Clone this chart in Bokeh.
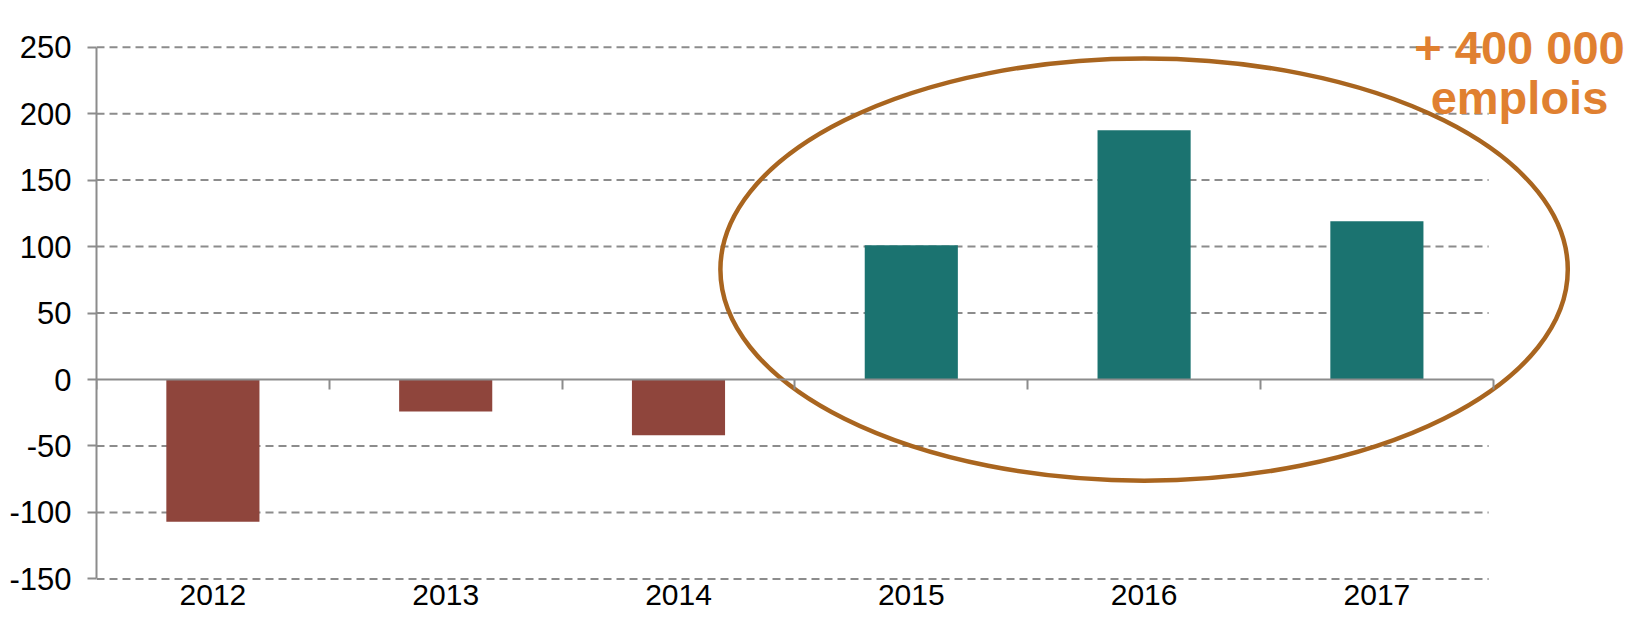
from bokeh.plotting import figure
from bokeh.models import Range1d, LinearAxis, FixedTicker, Label
from bokeh.embed import file_html
from bokeh.resources import INLINE

# ---- data ----
years = ["2012", "2013", "2014", "2015", "2016", "2017"]
values = [-107, -24, -42, 101, 187.5, 119]
y_ticks = [-150, -100, -50, 0, 50, 100, 150, 200, 250]
annotation_lines = ["+ 400 000", "emplois"]

NEG = "#8F453C"
POS = "#1B7370"
GREY = "#8C8C8C"
RING = "#A9651F"
NOTE = "#E08030"
FONT = "Liberation Sans"

x_pos = [i + 1 for i in range(len(years))]
colors = [NEG if v < 0 else POS for v in values]

p = figure(width=1627, height=615,
           x_range=Range1d(0.5, 7.0765), y_range=Range1d(-177.5, 285.1),
           output_backend="svg", toolbar_location=None,
           x_axis_location=None, y_axis_location=None,
           min_border_left=96, min_border_right=0,
           min_border_top=0, min_border_bottom=0)
p.outline_line_color = None
p.grid.visible = False

# horizontal dashed grid lines (not at zero), ending just before the last category edge
grid_ticks = [t for t in y_ticks if t != 0]
p.segment(x0=[0.5] * len(grid_ticks), x1=[6.48] * len(grid_ticks),
          y0=grid_ticks, y1=grid_ticks,
          line_color=GREY, line_width=2, line_dash="8 5", level="underlay")

# bars
p.vbar(x=x_pos, top=values, bottom=0, width=0.4, fill_color=colors, line_color=None)

# ring annotation around the three positive years
p.ellipse(x=[x_pos[4]], y=[82.7], width=[3.64], height=[317.5],
          fill_color=None, line_color=RING, line_width=4.5)

# y axis (plain hyphen minus signs as in the original)
yax = LinearAxis(bounds=(-150, 250),
                 ticker=FixedTicker(ticks=y_ticks, minor_ticks=[]),
                 major_label_overrides={t: str(t) for t in y_ticks},
                 axis_line_color=GREY, axis_line_width=2,
                 major_tick_line_color=GREY, major_tick_line_width=2,
                 major_tick_out=9, major_tick_in=0,
                 minor_tick_line_color=None,
                 major_label_standoff=16,
                 major_label_text_font=FONT, major_label_text_font_size="31px",
                 major_label_text_color="#000000")
p.add_layout(yax, "left")

# zero axis line with boundary ticks
bounds_ticks = [i + 0.5 for i in range(len(years) + 1)]
zax = LinearAxis(fixed_location=0, bounds=(0.5, 6.5),
                 ticker=FixedTicker(ticks=bounds_ticks, minor_ticks=[]),
                 axis_line_color=GREY, axis_line_width=2,
                 major_tick_line_color=GREY, major_tick_line_width=2,
                 major_tick_out=10, major_tick_in=0,
                 minor_tick_line_color=None,
                 major_label_text_color=None, major_label_text_font_size="1px")
p.add_layout(zax, "below")

# category labels at the bottom
xax = LinearAxis(fixed_location=-150,
                 ticker=FixedTicker(ticks=x_pos, minor_ticks=[]),
                 major_label_overrides={x: y for x, y in zip(x_pos, years)},
                 axis_line_color=None, major_tick_line_color=None,
                 minor_tick_line_color=None,
                 major_label_standoff=0,
                 major_label_text_font=FONT, major_label_text_font_size="30px",
                 major_label_text_color="#000000")
p.add_layout(xax, "below")

# annotation text
for txt, yy in zip(annotation_lines, [250, 212.4]):
    p.add_layout(Label(x=6.6125, y=yy, text=txt, text_align="center",
                       text_baseline="alphabetic", text_font=FONT,
                       text_font_size="47px", text_font_style="bold",
                       text_color=NOTE))

open("out.html", "w").write(file_html(p, INLINE))
